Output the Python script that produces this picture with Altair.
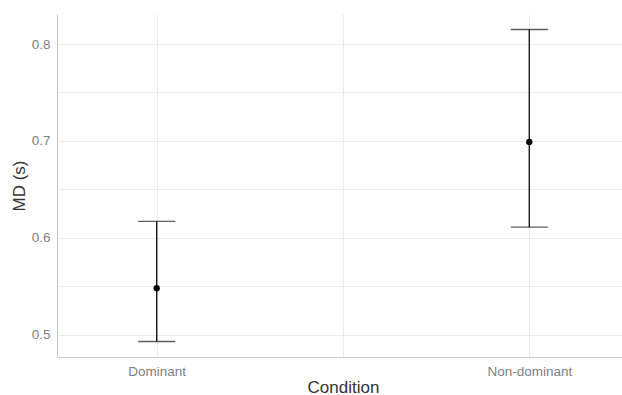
import altair as alt
import pandas as pd

conditions = ["Dominant", "Non-dominant"]
means = [0.548, 0.699]
lowers = [0.493, 0.611]
uppers = [0.617, 0.815]

df = pd.DataFrame({
    "condition": conditions,
    "idx": [i + 1 for i in range(len(conditions))],
    "mean": means,
    "lower": lowers,
    "upper": uppers,
})

label_expr = " : ".join(
    [f"datum.value == {i + 1} ? '{c}'" for i, c in enumerate(conditions)]
) + " : ''"

FONT = "Liberation Sans"

x_enc = alt.X(
    "idx:Q",
    title="Condition",
    scale=alt.Scale(domain=[0.7324, 2.2488], nice=False, zero=False),
    axis=alt.Axis(
        values=[1, 1.5, 2],
        labelExpr=label_expr,
        grid=True,
        gridColor="#ebebeb",
        ticks=False,
        domain=True,
        domainColor="#cccccc",
        labelColor="#7f7f7f",
        labelFontSize=13.5,
        labelFont=FONT,
        labelPadding=7,
        labelBaseline="top",
        titleFont=FONT,
        titleFontSize=17,
        titleFontWeight="normal",
        titleColor="#333333",
        titleX=286,
        titleY=35,
        titleBaseline="alphabetic",
        titleAlign="center",
    ),
)

y_enc = alt.Y(
    "mean:Q",
    title="MD (s)",
    scale=alt.Scale(domain=[0.477, 0.831], nice=False, zero=False),
    axis=alt.Axis(
        values=[0.5, 0.55, 0.6, 0.65, 0.7, 0.75, 0.8],
        labelExpr="abs(datum.value*10 - round(datum.value*10)) < 0.001 ? format(datum.value, '.1f') : ''",
        grid=True,
        gridColor="#ebebeb",
        ticks=False,
        domain=True,
        domainColor="#cccccc",
        labelColor="#7f7f7f",
        labelFontSize=13.5,
        labelFont=FONT,
        labelPadding=7,
        titleFont=FONT,
        titleFontSize=17,
        titleFontWeight="normal",
        titleColor="#333333",
        titleAngle=-90,
        titleX=-33,
        titleY=171.5,
        titleBaseline="alphabetic",
        titleAlign="center",
    ),
)

base = alt.Chart(df)

rules = base.mark_rule(color="#1a1a1a", strokeWidth=1.4).encode(
    x=x_enc,
    y=alt.Y("lower:Q"),
    y2="upper:Q",
)
caps_top = base.mark_tick(color="#1a1a1a", orient="horizontal", size=37, thickness=1.4).encode(
    x="idx:Q", y="upper:Q"
)
caps_bot = base.mark_tick(color="#1a1a1a", orient="horizontal", size=37, thickness=1.4).encode(
    x="idx:Q", y="lower:Q"
)
points = base.mark_point(filled=True, color="#000000", size=40, opacity=1).encode(
    x="idx:Q", y=y_enc
)

chart = alt.layer(rules, caps_top, caps_bot, points).properties(
    width=565,
    height=343,
    autosize=alt.AutoSizeParams(type="none"),
    padding={"left": 57, "top": 14, "right": 0, "bottom": 38},
    background="white",
).configure_view(stroke=None)

chart.save("out.html", embed_options={"renderer": "svg", "actions": False})
